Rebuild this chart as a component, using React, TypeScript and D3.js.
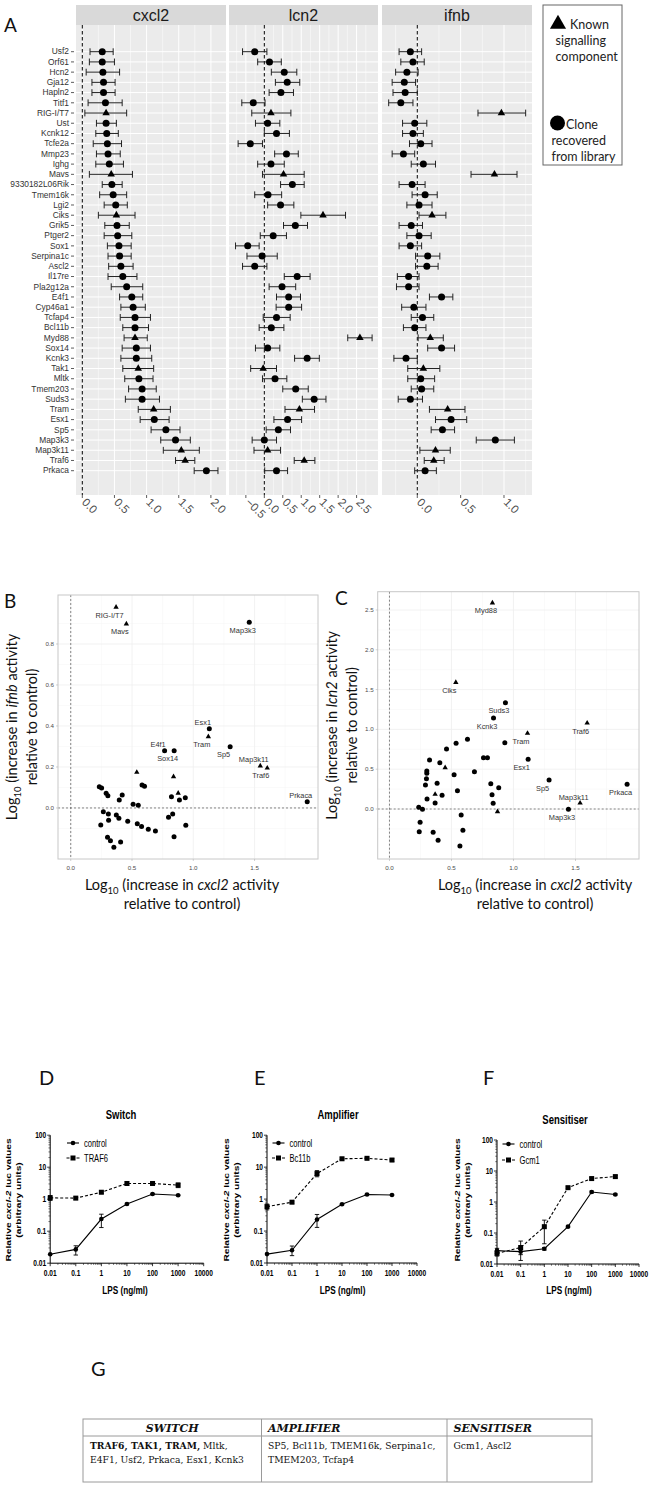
import React from "react";
import * as d3 from "d3";

// ---------------- Panel A data ----------------
const genes = ["Usf2","Orf61","Hcn2","Gja12","Hapln2","Titf1","RIG-I/T7","Ust","Kcnk12","Tcfe2a","Mmp23","Ighg","Mavs","9330182L06Rik","Tmem16k","Lgi2","Ciks","Grik5","Ptger2","Sox1","Serpina1c","Ascl2","Il17re","Pla2g12a","E4f1","Cyp46a1","Tcfap4","Bcl11b","Myd88","Sox14","Kcnk3","Tak1","Mltk","Tmem203","Suds3","Tram","Esx1","Sp5","Map3k3","Map3k11","Traf6","Prkaca"];
const knownComponents = ["RIG-I/T7","Mavs","Ciks","Myd88","Tak1","Tram","Map3k11","Traf6"];

const cxcl2Mean = [0.31,0.31,0.32,0.33,0.33,0.36,0.37,0.37,0.38,0.39,0.40,0.42,0.45,0.46,0.48,0.52,0.53,0.54,0.55,0.57,0.58,0.60,0.63,0.69,0.77,0.79,0.82,0.82,0.82,0.84,0.84,0.87,0.88,0.93,0.93,1.11,1.12,1.30,1.45,1.54,1.60,1.93];
const cxcl2Low = [0.12,0.11,0.06,0.15,0.15,0.09,0.04,0.22,0.21,0.17,0.22,0.21,0.11,0.31,0.27,0.34,0.25,0.35,0.34,0.39,0.40,0.41,0.40,0.45,0.58,0.60,0.59,0.63,0.65,0.62,0.60,0.63,0.66,0.72,0.67,0.87,0.90,1.07,1.22,1.26,1.45,1.74];
const cxcl2High = [0.48,0.50,0.58,0.51,0.51,0.62,0.69,0.53,0.56,0.61,0.59,0.64,0.78,0.62,0.69,0.70,0.82,0.73,0.77,0.76,0.76,0.79,0.85,0.94,0.94,0.98,1.06,1.03,1.01,1.06,1.08,1.11,1.10,1.15,1.20,1.37,1.35,1.52,1.68,1.82,1.75,2.11];

const lcn2Mean = [-0.26,0.14,0.54,0.62,0.45,-0.30,0.18,0.09,0.33,-0.38,0.60,0.18,0.52,0.76,0.10,0.44,1.59,0.84,0.24,-0.45,-0.06,-0.26,0.89,0.48,0.66,0.66,0.33,0.19,2.59,0.09,1.16,-0.03,0.29,0.85,1.35,0.95,0.63,0.38,0.00,0.09,1.08,0.33];
const lcn2Low = [-0.59,-0.18,0.19,0.30,0.13,-0.61,-0.34,-0.24,0.00,-0.71,0.28,-0.18,-0.05,0.44,-0.26,0.09,0.99,0.52,-0.11,-0.78,-0.47,-0.59,0.54,0.13,0.33,0.32,-0.03,-0.14,2.26,-0.24,0.82,-0.37,-0.05,0.50,1.03,0.56,0.26,0.05,-0.33,-0.28,0.81,0.01];
const lcn2High = [0.07,0.46,0.88,0.96,0.79,0.02,0.72,0.42,0.68,-0.05,0.92,0.54,1.08,1.08,0.47,0.80,2.20,1.17,0.60,-0.14,0.35,0.07,1.24,0.85,0.98,1.01,0.70,0.53,2.92,0.42,1.49,0.33,0.61,1.19,1.67,1.36,1.01,0.71,0.33,0.44,1.37,0.63];

const ifnbMean = [-0.08,-0.05,-0.12,-0.15,-0.14,-0.19,0.97,-0.03,-0.05,0.04,-0.16,0.07,0.89,-0.06,0.09,0.02,0.17,-0.07,0.02,-0.08,0.12,0.11,-0.10,-0.10,0.28,-0.04,0.06,-0.03,0.15,0.28,-0.13,0.07,0.04,0.05,-0.08,0.35,0.39,0.29,0.90,0.21,0.19,0.09];
const ifnbLow = [-0.21,-0.19,-0.25,-0.29,-0.28,-0.33,0.70,-0.17,-0.17,-0.09,-0.29,-0.07,0.62,-0.21,-0.06,-0.12,0.02,-0.21,-0.12,-0.21,-0.02,-0.02,-0.23,-0.24,0.14,-0.18,-0.07,-0.16,0.01,0.12,-0.27,-0.11,-0.11,-0.07,-0.22,0.14,0.21,0.16,0.68,0.03,0.08,-0.03];
const ifnbHigh = [0.05,0.08,0.01,-0.02,0.00,-0.05,1.25,0.11,0.07,0.17,-0.03,0.21,1.15,0.09,0.23,0.17,0.33,0.06,0.16,0.05,0.26,0.24,0.02,0.02,0.41,0.10,0.19,0.10,0.30,0.43,0.00,0.26,0.20,0.19,0.06,0.55,0.57,0.43,1.12,0.38,0.31,0.22];

const cxcl2Ticks = [0, 0.5, 1, 1.5, 2];
const lcn2Ticks = [-0.5, 0, 0.5, 1, 1.5, 2, 2.5];
const ifnbTicks = [0, 0.5, 1];

// ---------------- Panel B / C data ----------------
const bGene = ["RIG-I/T7","Mavs","Map3k3","Esx1","Tram","E4f1","Sox14","Sp5","Map3k11","Traf6","Prkaca","","","","","","","","","","","","","","","","","","","","","","","","","","","","","","","","","","",""];
const bKnown = [1,1,0,0,1,0,0,0,1,1,0,1,1,1,0,0,0,0,0,0,0,0,0,0,0,0,0,0,0,0,0,0,0,0,0,0,0,0,0,0,0,0,0,0,0,0];
const bX = [0.37,0.454,1.457,1.131,1.123,0.766,0.844,1.301,1.547,1.604,1.93,0.539,0.839,0.877,0.233,0.252,0.582,0.602,0.289,0.303,0.42,0.396,0.509,0.551,0.822,0.935,0.887,0.266,0.307,0.245,0.309,0.372,0.393,0.465,0.543,0.578,0.633,0.691,0.30,0.324,0.407,0.352,0.832,0.798,0.939,0.843];
const bY = [0.98,0.898,0.906,0.386,0.348,0.279,0.279,0.299,0.205,0.195,0.03,0.174,0.153,0.072,0.104,0.098,0.112,0.106,0.072,0.059,0.063,0.039,0.018,0.013,0.055,0.05,0.039,-0.018,-0.029,-0.083,-0.06,-0.034,-0.05,-0.065,-0.077,-0.091,-0.104,-0.112,-0.143,-0.16,-0.166,-0.192,-0.029,-0.045,-0.084,-0.141];
const bLabelAbove = ["Esx1","E4f1","Map3k11","Prkaca"];

const cGene = ["Myd88","Ciks","Suds3","Kcnk3","Tram","Traf6","Esx1","Sp5","Map3k11","Prkaca","Map3k3","","","","","","","","","","","","","","","","","","","","","","","","","","","","","","","","","","",""];
const cKnown = [1,1,0,0,1,1,0,0,1,0,0,0,0,0,0,0,0,0,0,1,0,0,0,0,0,0,0,0,0,0,0,0,1,0,0,0,0,1,0,0,0,0,0,0,0,0];
const cX = [0.83,0.535,0.935,0.839,1.113,1.594,1.118,1.287,1.537,1.916,1.443,0.93,0.629,0.537,0.46,0.323,0.406,0.758,0.79,0.449,0.301,0.301,0.685,0.298,0.521,0.29,0.384,0.817,0.881,0.548,0.303,0.424,0.368,0.368,0.827,0.836,0.236,0.871,0.266,0.578,0.247,0.24,0.352,0.392,0.592,0.568];
const cY = [2.59,1.59,1.335,1.143,0.951,1.08,0.624,0.364,0.075,0.31,-0.004,0.833,0.875,0.825,0.754,0.616,0.582,0.645,0.645,0.519,0.477,0.448,0.469,0.381,0.431,0.301,0.323,0.318,0.268,0.23,0.126,0.172,0.185,0.075,0.18,0.071,0.021,-0.034,-0.004,-0.075,-0.167,-0.285,-0.293,-0.393,-0.268,-0.465];
const cLabelAbove = ["Map3k11"];

const bTicksX = [0, 0.5, 1, 1.5];
const bTicksY = [0, 0.2, 0.4, 0.6, 0.8];
const cTicksY = [0, 0.5, 1, 1.5, 2, 2.5];

// ---------------- Panels D / E / F data ----------------
const lps = [0.01, 0.1, 1, 10, 100, 1000];
const lpsTicks = [0.01, 0.1, 1, 10, 100, 1000, 10000];
const lucTicks = [0.01, 0.1, 1, 10, 100];

const switchControl = [0.019, 0.027, 0.24, 0.71, 1.45, 1.33];
const switchControlLow = [0.019, 0.018, 0.13, 0.67, 1.38, 1.27];
const switchControlHigh = [0.019, 0.035, 0.34, 0.75, 1.52, 1.40];
const switchTraf6 = [1.1, 1.08, 1.65, 3.1, 3.1, 2.75];
const switchTraf6Low = [0.92, 1.0, 1.52, 2.7, 2.9, 2.3];
const switchTraf6High = [1.3, 1.16, 1.8, 3.5, 3.3, 3.2];

const ampControl = [0.019, 0.025, 0.23, 0.69, 1.4, 1.35];
const ampControlLow = [0.019, 0.017, 0.13, 0.65, 1.34, 1.3];
const ampControlHigh = [0.019, 0.034, 0.33, 0.73, 1.46, 1.4];
const ampBcl11b = [0.58, 0.8, 6.3, 18.3, 18.9, 16.7];
const ampBcl11bLow = [0.46, 0.74, 5.0, 17, 17.5, 15];
const ampBcl11bHigh = [0.7, 0.86, 7.8, 19.5, 20.3, 18.5];

const sensControl = [0.027, 0.025, 0.031, 0.16, 2.1, 1.75];
const sensControlLow = [0.022, 0.02, 0.028, 0.15, 1.95, 1.65];
const sensControlHigh = [0.032, 0.03, 0.034, 0.17, 2.25, 1.85];
const sensGcm1 = [0.022, 0.034, 0.16, 2.9, 5.7, 6.6];
const sensGcm1Low = [0.018, 0.013, 0.045, 2.7, 5.2, 6.0];
const sensGcm1High = [0.027, 0.055, 0.26, 3.1, 6.2, 7.2];

// ---------------- Panel G data ----------------
const tableHeaders = ["SWITCH", "AMPLIFIER", "SENSITISER"];
const switchBold = "TRAF6, TAK1, TRAM,";
const switchRest = [" Mltk,", "E4F1, Usf2, Prkaca, Esx1, Kcnk3"];
const amplifierGenes = ["SP5, Bcl11b, TMEM16k, Serpina1c,", "TMEM203, Tcfap4"];
const sensitiserGenes = ["Gcm1, Ascl2"];

const SANS = "'Liberation Sans', Arial, sans-serif";
const LATO = "Lato, 'Open Sans', sans-serif";
const SERIF = "'DejaVu Serif', 'Liberation Serif', serif";

function marker(known: boolean, x: number, y: number, size: number, key?: any) {
  if (known) {
    const p = d3.symbol(d3.symbolTriangle, size * size * 0.5)();
    return <path key={key} d={p as string} transform={`translate(${x},${y})`} fill="#000" />;
  }
  return <circle key={key} cx={x} cy={y} r={size / 2} fill="#000" />;
}

// ---------------- Panel A ----------------
function PanelA() {
  const yRow = d3.scalePoint<string>().domain(genes).range([51.7, 470.7]);
  const panels = [
    { name: "cxcl2", mean: cxcl2Mean, lo: cxcl2Low, hi: cxcl2High, x0: 76, x1: 226, dom: [-0.098, 2.235], ticks: cxcl2Ticks },
    { name: "lcn2", mean: lcn2Mean, lo: lcn2Low, hi: lcn2High, x0: 229, x1: 378, dom: [-0.957, 3.08], ticks: lcn2Ticks },
    { name: "ifnb", mean: ifnbMean, lo: ifnbLow, hi: ifnbHigh, x0: 382, x1: 532, dom: [-0.407, 1.323], ticks: ifnbTicks },
  ];
  const top = 25, bottom = 495;
  return (
    <g>
      <text x={4} y={31.5} fontFamily={LATO} fontSize={19} fill="#111">A</text>
      {genes.map((g) => (
        <g key={g}>
          <text x={69} y={yRow(g)!} dy="0.33em" textAnchor="end" fontFamily={SANS} fontSize={8.4} fill="#333">{g}</text>
          <line x1={71} x2={74} y1={yRow(g)!} y2={yRow(g)!} stroke="#333" strokeWidth={0.8} />
        </g>
      ))}
      {panels.map((p) => {
        const x = d3.scaleLinear().domain(p.dom).range([p.x0, p.x1]);
        const step = p.ticks[1] - p.ticks[0];
        const minor: number[] = [];
        for (let v = p.ticks[0] - step / 2; v <= p.dom[1]; v += step) {
          if (v >= p.dom[0] && v <= p.dom[1]) minor.push(v);
        }
        return (
          <g key={p.name}>
            <rect x={p.x0} y={5} width={p.x1 - p.x0} height={20} fill="#d9d9d9" />
            <text x={(p.x0 + p.x1) / 2} y={21} textAnchor="middle" fontFamily={SANS} fontSize={16} fill="#1a1a1a">{p.name}</text>
            <rect x={p.x0} y={top} width={p.x1 - p.x0} height={bottom - top} fill="#ebebeb" />
            {minor.map((v) => (
              <line key={"mi" + v} x1={x(v)} x2={x(v)} y1={top} y2={bottom} stroke="#fff" strokeWidth={0.5} />
            ))}
            {p.ticks.map((v) => (
              <line key={"ma" + v} x1={x(v)} x2={x(v)} y1={top} y2={bottom} stroke="#fff" strokeWidth={1} />
            ))}
            {genes.map((g) => (
              <line key={"h" + g} x1={p.x0} x2={p.x1} y1={yRow(g)!} y2={yRow(g)!} stroke="#fff" strokeWidth={1} />
            ))}
            <line x1={x(0)} x2={x(0)} y1={top} y2={bottom} stroke="#000" strokeWidth={1} strokeDasharray="3.5,2.5" />
            {genes.map((g, i) => {
              const y = yRow(g)!;
              return (
                <g key={"pt" + g}>
                  <line x1={x(p.lo[i])} x2={x(p.hi[i])} y1={y} y2={y} stroke="#222" strokeWidth={1} />
                  <line x1={x(p.lo[i])} x2={x(p.lo[i])} y1={y - 3.4} y2={y + 3.4} stroke="#222" strokeWidth={1} />
                  <line x1={x(p.hi[i])} x2={x(p.hi[i])} y1={y - 3.4} y2={y + 3.4} stroke="#222" strokeWidth={1} />
                  {marker(knownComponents.includes(g), x(p.mean[i]), y, 7)}
                </g>
              );
            })}
            {p.ticks.map((v) => (
              <g key={"t" + v}>
                <line x1={x(v)} x2={x(v)} y1={bottom} y2={bottom + 3} stroke="#333" strokeWidth={0.8} />
                <text transform={`translate(${x(v) - 1},${bottom + 8}) rotate(45)`} fontFamily={SANS} fontSize={11.5} fill="#4d4d4d">
                  {d3.format(".1f")(v)}
                </text>
              </g>
            ))}
          </g>
        );
      })}
      {/* legend */}
      <rect x={543} y={5} width={79} height={160} fill="#fff" stroke="#666" strokeWidth={1} />
      {marker(true, 558, 24, 15)}
      <g fontFamily={LATO} fontSize={12.5} fill="#222">
        <text x={570} y={29}>Known</text>
        <text x={555.5} y={45}>signalling</text>
        <text x={555.5} y={61}>component</text>
        <text x={566} y={129}>Clone</text>
        <text x={551.5} y={145}>recovered</text>
        <text x={551.5} y={161}>from library</text>
      </g>
      <circle cx={557.5} cy={123} r={7.5} fill="#000" />
    </g>
  );
}

// ---------------- Panels B / C ----------------
function Scatter(props: any) {
  const { letter, letterX, gene, known, xs, ys, above, x0, x1, y0, y1, xDom, yDom, yTicks, yName, titleX1, titleX2, xTitleCx } = props;
  const x = d3.scaleLinear().domain(xDom).range([x0, x1]);
  const y = d3.scaleLinear().domain(yDom).range([y1, y0]);
  const xMinor = [0.25, 0.75, 1.25, 1.75];
  const yStep = yTicks[1] - yTicks[0];
  const yMinor: number[] = [];
  for (let v = yTicks[0] - yStep / 2; v <= yDom[1]; v += yStep) if (v >= yDom[0]) yMinor.push(v);
  const yc = (y0 + y1) / 2;
  return (
    <g>
      <text x={letterX} y={y0 + 13} fontFamily={LATO} fontSize={19} fill="#111">{letter}</text>
      <rect x={x0} y={y0} width={x1 - x0} height={y1 - y0} fill="#fff" />
      {xMinor.map((v) => <line key={"xm" + v} x1={x(v)} x2={x(v)} y1={y0} y2={y1} stroke="#f5f5f5" strokeWidth={0.5} />)}
      {yMinor.map((v) => <line key={"ym" + v} x1={x0} x2={x1} y1={y(v)} y2={y(v)} stroke="#f5f5f5" strokeWidth={0.5} />)}
      {bTicksX.map((v) => <line key={"xg" + v} x1={x(v)} x2={x(v)} y1={y0} y2={y1} stroke="#efefef" strokeWidth={0.8} />)}
      {yTicks.map((v: number) => <line key={"yg" + v} x1={x0} x2={x1} y1={y(v)} y2={y(v)} stroke="#efefef" strokeWidth={0.8} />)}
      <line x1={x(0)} x2={x(0)} y1={y0} y2={y1} stroke="#555" strokeWidth={0.7} strokeDasharray="2,2" />
      <line x1={x0} x2={x1} y1={y(0)} y2={y(0)} stroke="#555" strokeWidth={0.7} strokeDasharray="2,2" />
      <rect x={x0} y={y0} width={x1 - x0} height={y1 - y0} fill="none" stroke="#c8c8c8" strokeWidth={1} />
      {yTicks.map((v: number) => (
        <g key={"yt" + v}>
          <line x1={x0 - 2} x2={x0} y1={y(v)} y2={y(v)} stroke="#b3b3b3" strokeWidth={0.6} />
          <text x={x0 - 4} y={y(v)} dy="0.33em" textAnchor="end" fontFamily={SANS} fontSize={6.2} fill="#4d4d4d">{d3.format(".1f")(v)}</text>
        </g>
      ))}
      {bTicksX.map((v) => (
        <g key={"xt" + v}>
          <line x1={x(v)} x2={x(v)} y1={y1} y2={y1 + 2} stroke="#b3b3b3" strokeWidth={0.6} />
          <text x={x(v)} y={y1 + 10.5} textAnchor="middle" fontFamily={SANS} fontSize={6.2} fill="#4d4d4d">{d3.format(".1f")(v)}</text>
        </g>
      ))}
      {xs.map((vx: number, i: number) => marker(known[i] === 1, x(vx), y(ys[i]), 5, "p" + i))}
      {gene.map((g: string, i: number) => {
        if (!g) return null;
        const px = x(xs[i]), py = y(ys[i]);
        const isAbove = above.includes(g);
        return (
          <text key={"l" + i} x={px - 6.5} y={isAbove ? py - 3.5 : py + 10.5} textAnchor="middle" fontFamily={SANS} fontSize={7.4} fill="#333">{g}</text>
        );
      })}
      {/* y title */}
      <g fontFamily={LATO} fontSize={14.5} fill="#111">
        <text transform={`translate(${titleX1},${yc}) rotate(-90)`} textAnchor="middle">
          <tspan>Log</tspan><tspan fontSize={9.5} dy={4}>10</tspan><tspan dy={-4}> (increase in </tspan><tspan fontStyle="italic">{yName}</tspan><tspan> activity</tspan>
        </text>
        <text transform={`translate(${titleX2},${yc}) rotate(-90)`} textAnchor="middle">relative to control)</text>
        <text x={xTitleCx} y={890} textAnchor="middle">
          <tspan>Log</tspan><tspan fontSize={9.5} dy={4}>10</tspan><tspan dy={-4}> (increase in </tspan><tspan fontStyle="italic">cxcl2</tspan><tspan> activity</tspan>
        </text>
        <text x={xTitleCx} y={909} textAnchor="middle">relative to control)</text>
      </g>
    </g>
  );
}

// ---------------- Panels D / E / F ----------------
const SY = 1.4;
function ST(props: any) {
  const { x, y, rot, children, ...rest } = props;
  return (
    <g transform={`translate(${x},${y}) scale(1,${SY})${rot ? ` rotate(${rot})` : ""}`}>
      <text x={0} y={0} fontFamily={SANS} {...rest}>{children}</text>
    </g>
  );
}

function LpsPanel(props: any) {
  const { letter, letterX, x0, x1, yTop, yBot, title, titleX, titleY, ctrl, ctrlLo, ctrlHi, trt, trtLo, trtHi, trtLabel, legX, legY1, legY2, yt1, yt2, lpsX } = props;
  const x = d3.scaleLog().domain([0.01, 10000]).range([x0, x1]);
  const y = d3.scaleLog().domain([0.01, 100]).range([yBot, yTop]);
  const minorX: number[] = [];
  for (let d = 0.01; d < 10000; d *= 10) for (let k = 2; k <= 9; k++) minorX.push(d * k);
  const minorY: number[] = [];
  for (let d = 0.01; d < 100; d *= 10) for (let k = 2; k <= 9; k++) minorY.push(d * k);
  const line = d3.line<number>().x((_, i) => x(lps[i])).y((v) => y(v));
  const fmt = (v: number) => (v >= 1 ? String(Math.round(v)) : String(+v.toFixed(2)));
  const sq = 5;
  const cap = 2.2;
  return (
    <g>
      <text x={letterX} y={1085} fontFamily={LATO} fontSize={20} fill="#111">{letter}</text>
      <ST x={titleX} y={titleY} textAnchor="middle" fontSize={9.5} fontWeight="bold" dy="0.35em">{title}</ST>
      <line x1={x0} x2={x0} y1={yBot} y2={yTop} stroke="#000" strokeWidth={1} />
      <line x1={x0} x2={x1} y1={yBot} y2={yBot} stroke="#000" strokeWidth={1} />
      {lpsTicks.map((v) => (
        <g key={"xt" + v}>
          <line x1={x(v)} x2={x(v)} y1={yBot} y2={yBot + 3} stroke="#000" strokeWidth={0.8} />
          <ST x={x(v)} y={yBot + 9.5} textAnchor="middle" fontSize={6.6} fontWeight="bold" dy="0.35em">{fmt(v)}</ST>
        </g>
      ))}
      {minorX.map((v) => <line key={"xm" + v} x1={x(v)} x2={x(v)} y1={yBot} y2={yBot + 1.8} stroke="#000" strokeWidth={0.5} />)}
      {lucTicks.map((v) => (
        <g key={"yt" + v}>
          <line x1={x0 - 3} x2={x0} y1={y(v)} y2={y(v)} stroke="#000" strokeWidth={0.8} />
          <ST x={x0 - 4} y={y(v)} textAnchor="end" fontSize={6.6} fontWeight="bold" dy="0.35em">{fmt(v)}</ST>
        </g>
      ))}
      {minorY.map((v) => <line key={"ym" + v} x1={x0 - 1.8} x2={x0} y1={y(v)} y2={y(v)} stroke="#000" strokeWidth={0.5} />)}
      <ST x={lpsX} y={1290} textAnchor="middle" fontSize={8.2} fontWeight="bold" dy="0.35em">LPS (ng/ml)</ST>
      <ST x={yt1} y={1200} rot={-90} textAnchor="middle" fontSize={7.3} fontWeight="bold" dy="0.35em">
        <tspan>Relative </tspan><tspan fontStyle="italic">cxcl-2</tspan><tspan> luc values</tspan>
      </ST>
      <ST x={yt2} y={1200} rot={-90} textAnchor="middle" fontSize={7.3} fontWeight="bold" dy="0.35em">(arbitrary units)</ST>
      {/* error bars */}
      {lps.map((v, i) => (
        <g key={"e" + i} stroke="#000" strokeWidth={0.9}>
          {ctrlHi[i] > ctrlLo[i] * 1.05 && (
            <g>
              <line x1={x(v)} x2={x(v)} y1={y(ctrlLo[i])} y2={y(ctrlHi[i])} />
              <line x1={x(v) - cap} x2={x(v) + cap} y1={y(ctrlLo[i])} y2={y(ctrlLo[i])} />
              <line x1={x(v) - cap} x2={x(v) + cap} y1={y(ctrlHi[i])} y2={y(ctrlHi[i])} />
            </g>
          )}
          {trtHi[i] > trtLo[i] * 1.05 && (
            <g>
              <line x1={x(v)} x2={x(v)} y1={y(trtLo[i])} y2={y(trtHi[i])} />
              <line x1={x(v) - cap} x2={x(v) + cap} y1={y(trtLo[i])} y2={y(trtLo[i])} />
              <line x1={x(v) - cap} x2={x(v) + cap} y1={y(trtHi[i])} y2={y(trtHi[i])} />
            </g>
          )}
        </g>
      ))}
      <path d={line(trt) as string} fill="none" stroke="#000" strokeWidth={1.1} strokeDasharray="3,2" />
      <path d={line(ctrl) as string} fill="none" stroke="#000" strokeWidth={1.1} />
      {lps.map((v, i) => (
        <g key={"m" + i}>
          <rect x={x(v) - sq / 2} y={y(trt[i]) - sq / 2} width={sq} height={sq} fill="#000" />
          <circle cx={x(v)} cy={y(ctrl[i])} r={2.3} fill="#000" />
        </g>
      ))}
      {/* legend */}
      <line x1={legX - 6} x2={legX + 6} y1={legY1} y2={legY1} stroke="#000" strokeWidth={1.1} />
      <circle cx={legX} cy={legY1} r={2.3} fill="#000" />
      <line x1={legX - 6.5} x2={legX + 6.5} y1={legY2} y2={legY2} stroke="#000" strokeWidth={1.1} strokeDasharray="3,2" />
      <rect x={legX - 2.5} y={legY2 - 2.5} width={5} height={5} fill="#000" />
      <ST x={legX + 11} y={legY1} fontSize={7.6} dy="0.35em">control</ST>
      <ST x={legX + 11} y={legY2} fontSize={7.6} dy="0.35em">{trtLabel}</ST>
    </g>
  );
}

// ---------------- Panel G ----------------
function PanelG() {
  const xs = [83, 261.5, 447, 592];
  const top = 1419, mid = 1436, bot = 1482;
  return (
    <g>
      <text x={91} y={1376} fontFamily={LATO} fontSize={20} fill="#111">G</text>
      <g stroke="#9a9a9a" strokeWidth={1} fill="none">
        <rect x={xs[0]} y={top} width={xs[3] - xs[0]} height={bot - top} />
        <line x1={xs[0]} x2={xs[3]} y1={mid} y2={mid} />
        <line x1={xs[1]} x2={xs[1]} y1={top} y2={bot} />
        <line x1={xs[2]} x2={xs[2]} y1={top} y2={bot} />
      </g>
      <g fontFamily={SERIF} fill="#111">
        <text x={(xs[0] + xs[1]) / 2} y={1432} textAnchor="middle" fontSize={11} fontWeight="bold" fontStyle="italic">{tableHeaders[0]}</text>
        <text x={xs[1] + 6.5} y={1432} fontSize={11} fontWeight="bold" fontStyle="italic">{tableHeaders[1]}</text>
        <text x={xs[2] + 6.5} y={1432} fontSize={11} fontWeight="bold" fontStyle="italic">{tableHeaders[2]}</text>
        <text x={xs[0] + 7} y={1448.5} fontSize={9.2}>
          <tspan fontWeight="bold">{switchBold}</tspan><tspan>{switchRest[0]}</tspan>
        </text>
        <text x={xs[0] + 7} y={1463} fontSize={9.2}>{switchRest[1]}</text>
        {amplifierGenes.map((t, i) => (
          <text key={t} x={xs[1] + 6.5} y={1448.5 + i * 14.5} fontSize={9.2}>{t}</text>
        ))}
        {sensitiserGenes.map((t, i) => (
          <text key={t} x={xs[2] + 6.5} y={1448.5 + i * 14.5} fontSize={9.2}>{t}</text>
        ))}
      </g>
    </g>
  );
}

export default function App() {
  return (
    <div style={{ position: "absolute", left: 0, top: 0, width: 658, height: 1487, background: "#fff" }}>
      <svg width={658} height={1487} viewBox="0 0 658 1487" style={{ display: "block" }} fontFamily={SANS}>
        <rect width={658} height={1487} fill="#fff" />
        <PanelA />
        <Scatter letter="B" letterX={4} gene={bGene} known={bKnown} xs={bX} ys={bY} above={bLabelAbove}
          x0={58} x1={318} y0={595} y1={859} xDom={[-0.104, 2.018]} yDom={[-0.249, 1.039]} yTicks={bTicksY}
          yName="ifnb" titleX1={17} titleX2={37} xTitleCx={182} />
        <Scatter letter="C" letterX={335} gene={cGene} known={cKnown} xs={cX} ys={cY} above={cLabelAbove}
          x0={377.7} x1={639} y0={591.7} y1={859} xDom={[-0.095, 2.012]} yDom={[-0.628, 2.73]} yTicks={cTicksY}
          yName="lcn2" titleX1={337} titleX2={357} xTitleCx={535} />
        <LpsPanel letter="D" letterX={39} x0={50.2} x1={203.7} yTop={1135.2} yBot={1263.2} title="Switch" titleX={121} titleY={1114}
          ctrl={switchControl} ctrlLo={switchControlLow} ctrlHi={switchControlHigh}
          trt={switchTraf6} trtLo={switchTraf6Low} trtHi={switchTraf6High} trtLabel="TRAF6"
          legX={73} legY1={1143} legY2={1158} yt1={8.4} yt2={18.8} lpsX={125} />
        <LpsPanel letter="E" letterX={254} x0={267} x1={417} yTop={1135.2} yBot={1263} title="Amplifier" titleX={338} titleY={1114}
          ctrl={ampControl} ctrlLo={ampControlLow} ctrlHi={ampControlHigh}
          trt={ampBcl11b} trtLo={ampBcl11bLow} trtHi={ampBcl11bHigh} trtLabel="Bc11b"
          legX={278.5} legY1={1143} legY2={1158} yt1={226} yt2={236.4} lpsX={342.6} />
        <LpsPanel letter="F" letterX={483} x0={497} x1={639} yTop={1140} yBot={1264} title="Sensitiser" titleX={565} titleY={1119}
          ctrl={sensControl} ctrlLo={sensControlLow} ctrlHi={sensControlHigh}
          trt={sensGcm1} trtLo={sensGcm1Low} trtHi={sensGcm1High} trtLabel="Gcm1"
          legX={508.5} legY1={1144} legY2={1160} yt1={457} yt2={467.4} lpsX={569} />
        <PanelG />
      </svg>
    </div>
  );
}
